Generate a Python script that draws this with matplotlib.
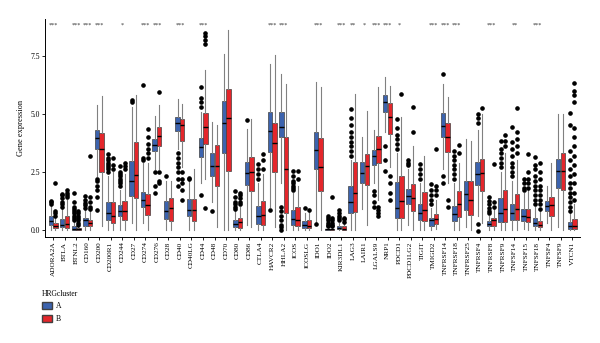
import matplotlib
matplotlib.use("Agg")
import matplotlib.pyplot as plt
from matplotlib.patches import Patch

plt.rcParams["font.family"] = ["Liberation Serif", "DejaVu Serif"]

genes = ["ADORA2A", "BTLA", "BTNL2", "CD160", "CD200", "CD200R1", "CD244", "CD27",
         "CD274", "CD276", "CD28", "CD40", "CD40LG", "CD44", "CD48", "CD70", "CD80",
         "CD86", "CTLA4", "HAVCR2", "HHLA2", "ICOS", "ICOSLG", "IDO1", "IDO2",
         "KIR3DL1", "LAG3", "LAIR1", "LGALS9", "NRP1", "PDCD1", "PDCD1LG2", "TIGIT",
         "TMIGD2", "TNFRSF14", "TNFRSF18", "TNFRSF25", "TNFRSF4", "TNFRSF8", "TNFRSF9",
         "TNFSF14", "TNFSF15", "TNFSF18", "TNFSF4", "TNFSF9", "VTCN1"]

stars = ["***", "", "***", "***", "***", "", "*", "", "***", "***", "", "***", "",
         "***", "", "", "", "", "", "***", "***", "", "", "***", "", "***", "**", "*",
         "***", "***", "*", "", "", "***", "***", "***", "", "", "***", "", "**", "",
         "***", "", "", ""]

# cluster A: q1, median, q3, lower whisker, upper whisker, outliers
a_q1 = [0.22, 0.10, 0.00, 0.17, 3.50, 0.41, 0.60, 1.45, 0.97, 3.40, 0.46, 4.28, 0.58, 3.12,
        2.32, 3.30, 0.12, 1.91, 0.26, 3.36, 3.99, 0.22, 0.07, 2.64, 0.00, 0.03, 0.70, 2.03,
        2.78, 5.07, 0.51, 1.12, 0.41, 0.17, 4.01, 0.39, 0.87, 1.91, 0.17, 0.32, 0.41, 0.39,
        0.14, 0.80, 1.81, 0.03]
a_med = [0.36, 0.22, 0.05, 0.40, 3.94, 0.72, 0.80, 2.10, 1.30, 3.67, 0.80, 4.60, 0.87, 3.58,
         2.75, 4.60, 0.25, 2.46, 0.58, 4.28, 4.42, 0.48, 0.19, 3.43, 0.02, 0.08, 1.19, 2.46,
         3.16, 5.51, 0.94, 1.45, 0.72, 0.41, 4.46, 0.68, 1.55, 2.39, 0.26, 0.72, 0.72, 0.61,
         0.29, 1.01, 2.54, 0.14]
a_q3 = [0.58, 0.46, 0.15, 0.50, 4.30, 1.19, 1.06, 2.97, 1.62, 3.91, 1.26, 4.86, 1.33, 3.94,
        3.33, 5.54, 0.40, 2.93, 1.01, 5.07, 5.10, 0.84, 0.36, 4.23, 0.05, 0.17, 1.88, 2.93,
        3.45, 5.83, 2.06, 1.77, 1.09, 0.50, 5.03, 1.01, 2.10, 2.94, 0.36, 1.35, 1.13, 0.90,
        0.51, 1.23, 3.07, 0.33]
a_lo = [0.00, 0.00, 0.00, 0.00, 2.30, 0.00, 0.00, 0.30, 0.30, 2.60, 0.00, 3.50, 0.00, 2.00,
        1.20, 0.00, 0.00, 0.20, 0.00, 1.00, 2.00, 0.00, 0.00, 0.30, 0.00, 0.00, 0.00, 0.90,
        2.00, 4.20, 0.00, 0.20, 0.00, 0.00, 2.60, 0.00, 0.10, 0.60, 0.00, 0.00, 0.00, 0.05,
        0.00, 0.30, 0.10, 0.00]
a_hi = [1.05, 0.90, 0.35, 0.90, 5.40, 2.30, 1.70, 5.30, 2.90, 4.90, 2.10, 5.65, 2.10, 5.10,
        4.64, 7.60, 0.80, 4.35, 2.00, 7.17, 6.70, 1.60, 0.70, 6.38, 0.10, 0.30, 3.00, 4.00,
        4.30, 6.60, 3.30, 2.60, 2.00, 0.95, 6.30, 2.00, 3.91, 4.30, 0.60, 2.50, 2.10, 1.60,
        1.00, 1.87, 5.00, 0.70]
a_out = [[1.1, 1.2, 1.25], [1.0, 1.1, 1.2, 1.35, 1.5, 1.55],
         [0.4, 0.5, 0.6, 0.7, 0.8, 0.9, 1.0, 1.2, 1.6], [0.95, 1.05, 1.15, 1.3, 1.45],
         [2.2, 2.1, 1.9, 1.7, 1.4, 0.85], [2.5, 2.6, 2.7, 2.8, 2.9, 3.0, 3.1, 3.26],
         [1.9, 2.0, 2.1, 2.2, 2.3, 2.4, 2.5, 2.75], [5.5, 5.6], [3.0, 3.1, 6.26],
         [2.5, 1.9, 1.6], [2.3], [3.3, 3.1, 2.9, 2.7, 2.5, 2.2, 1.9], [2.2, 2.25],
         [5.3, 5.5, 5.7, 6.16, 1.5], [0.8], [], [0.9, 1.0, 1.1, 1.2, 1.4, 1.67], [4.74],
         [2.2, 2.4, 2.6, 2.83], [0.87], [1.0, 0.8, 0.6, 0.4, 0.2, 0.1, 0.0],
         [1.7, 1.8, 1.9, 2.0, 2.1, 2.3, 2.54], [0.94], [0.25],
         [0.15, 0.2, 0.3, 0.4, 0.5, 0.58], [0.4, 0.5, 0.6, 0.7, 0.87],
         [3.2, 3.4, 3.6, 3.8, 4.0, 4.2, 4.5, 4.8, 5.2], [], [1.67, 1.5, 1.2, 1.0],
         [3.6, 3.0, 2.54], [3.5, 3.7, 3.9, 4.1, 4.4, 4.78], [2.8, 2.9, 3.0],
         [2.2, 2.4, 2.6, 2.83], [1.1, 1.3, 1.5, 1.7, 1.96], [6.71, 2.3, 2.0],
         [2.2, 2.4, 2.6, 2.8, 3.0, 3.2, 3.4], [], [4.6, 4.8, 5.0, 0.26, -0.05],
         [0.7, 0.8, 0.95, 1.1, 1.25, 1.42], [2.7, 2.9, 3.1, 3.3, 3.5, 3.84],
         [2.3, 2.5, 2.7, 2.9, 3.2, 3.5, 3.8, 4.42], [1.7, 1.8, 2.0, 2.17],
         [1.1, 1.3, 1.5, 1.7, 1.9, 2.1, 2.3, 2.6, 2.8, 3.12], [], [],
         [0.8, 1.0, 1.2, 1.4, 1.6, 1.8, 2.0, 2.3, 2.6, 3.0, 3.4, 4.5, 5.04]]

# cluster B
b_q1 = [0.08, 0.07, 0.00, 0.14, 2.50, 0.29, 0.43, 1.38, 0.65, 3.62, 0.36, 3.84, 0.36, 3.68,
        1.88, 2.54, 0.07, 1.65, 0.19, 2.50, 0.72, 0.14, 0.07, 1.67, 0.00, 0.00, 0.77, 1.91,
        2.86, 4.13, 0.51, 0.80, 0.36, 0.25, 3.36, 0.55, 0.65, 1.67, 0.17, 0.32, 0.43, 0.33,
        0.10, 0.58, 1.71, 0.03]
b_med = [0.17, 0.26, 0.03, 0.30, 3.48, 0.60, 0.80, 2.35, 1.06, 4.03, 0.94, 4.54, 0.84, 4.42,
         2.75, 4.81, 0.33, 2.49, 0.65, 3.74, 2.64, 0.43, 0.17, 2.71, 0.02, 0.03, 1.57, 2.75,
         3.48, 4.86, 1.23, 1.35, 0.84, 0.48, 4.01, 1.13, 1.30, 2.43, 0.41, 0.91, 0.90, 0.55,
         0.22, 1.06, 2.54, 0.14]
b_q3 = [0.28, 0.60, 0.07, 0.43, 4.16, 1.20, 1.26, 3.77, 1.55, 4.42, 1.38, 4.78, 1.33, 5.04,
        3.65, 6.09, 0.50, 3.14, 1.22, 4.60, 3.99, 0.99, 0.40, 3.94, 0.05, 0.14, 2.94, 3.26,
        4.06, 5.48, 2.32, 1.96, 1.64, 0.68, 4.59, 1.67, 2.10, 3.04, 0.50, 1.70, 1.52, 0.90,
        0.39, 1.42, 3.33, 0.48]
b_lo = [0.00, 0.00, 0.00, 0.00, 0.15, 0.00, 0.00, 0.00, 0.00, 2.60, 0.00, 2.70, 0.00, 2.20,
        0.10, 0.00, 0.00, 0.10, 0.00, 0.10, 0.00, 0.00, 0.00, 0.00, 0.00, 0.00, 0.00, 0.20,
        1.30, 2.70, 0.00, 0.00, 0.00, 0.05, 2.00, 0.00, 0.00, 0.30, 0.00, 0.00, 0.00, 0.00,
        0.00, 0.00, 0.00, 0.00]
b_hi = [0.55, 1.30, 0.15, 0.85, 5.75, 2.50, 2.40, 5.80, 2.90, 5.40, 2.10, 5.43, 2.60, 6.88,
        4.50, 8.62, 1.00, 4.78, 2.40, 7.54, 6.30, 1.90, 0.75, 6.16, 0.10, 0.25, 5.87, 5.14,
        6.16, 6.20, 4.86, 3.60, 3.20, 1.30, 5.72, 2.90, 3.84, 5.00, 0.90, 3.30, 3.00, 1.70,
        0.80, 2.90, 5.00, 1.10]
b_out = [[0.6, 0.7, 0.8, 2.03], [1.4, 1.5, 1.6, 1.7], [0.2, 0.3, 0.4, 0.5, 0.6, 0.7, 0.8],
         [0.9, 1.0, 1.2, 1.4, 3.2], [], [2.6, 2.8, 3.1], [2.6, 2.75, 2.9], [],
         [3.1, 3.3, 3.5, 3.7, 4.0, 4.35], [5.95, 2.5, 2.1, 2.0], [],
         [2.5, 2.2, 2.0, 1.7, 1.3], [], [8.0, 8.2, 8.35, 8.5, 0.94], [], [],
         [1.1, 1.2, 1.35, 1.5, 1.6], [], [2.6, 3.0, 3.26], [], [], [2.2, 2.54], [0.87], [],
         [0.15, 0.2, 0.3, 0.4, 0.5, 1.4], [0.35, 0.45, 0.5], [], [],
         [1.0, 0.85, 0.7, 0.58], [2.3, 2.0, 1.6, 1.3], [5.84], [4.2, 5.3], [],
         [1.5, 1.7, 1.9, 3.5], [1.3, 1.0], [3.3, 3.67], [], [5.25], [1.0, 1.2, 2.83],
         [3.6, 3.84, 4.09], [3.3, 3.6, 3.9, 4.2, 5.26], [1.8, 2.0, 2.2, 2.5, 3.26],
         [0.9, 1.1, 1.3, 1.5, 1.7, 1.9, 2.2, 2.5, 2.9], [], [],
         [1.3, 1.6, 2.0, 2.4, 2.8, 3.2, 3.6, 4.0, 4.4, 5.5, 5.8, 6.0, 6.33]]

COL_A = "#3c63ae"
COL_B = "#e4262b"


def stats(q1, med, q3, lo, hi, out):
    return [{"q1": q1[i], "med": med[i], "q3": q3[i], "whislo": lo[i], "whishi": hi[i],
             "fliers": out[i]} for i in range(len(q1))]


fig = plt.figure(figsize=(6, 3.43), dpi=100)
ax = fig.add_axes([0.075, 0.31, 0.892, 0.635])

pos = list(range(len(genes)))
for st, off, col in [(stats(a_q1, a_med, a_q3, a_lo, a_hi, a_out), -0.2, COL_A),
                     (stats(b_q1, b_med, b_q3, b_lo, b_hi, b_out), 0.2, COL_B)]:
    ax.bxp(st, positions=[p + off for p in pos], widths=0.38, patch_artist=True,
           showcaps=False, manage_ticks=False,
           boxprops=dict(facecolor=col, edgecolor="#404040", linewidth=0.5),
           medianprops=dict(color="black", linewidth=1.0),
           whiskerprops=dict(color="#808080", linewidth=0.8),
           flierprops=dict(marker="o", markerfacecolor="black", markeredgecolor="black",
                           markersize=2.3))

for p, s in zip(pos, stars):
    if s:
        ax.text(p, 8.82, s, ha="center", va="center", fontsize=4.5, color="#333333")

ax.set_xlim(-0.7, 45.7)
ax.set_ylim(-0.3, 9.1)
ax.set_xticks(pos)
ax.set_xticklabels(genes, rotation=90, fontsize=5.2)
ax.set_yticks([0, 2.5, 5.0, 7.5])
ax.set_yticklabels(["0.0", "2.5", "5.0", "7.5"], fontsize=5.5)
ax.set_ylabel("Gene expression", fontsize=6)
ax.tick_params(length=2, width=0.6, pad=1.5)
for sp in ["top", "right"]:
    ax.spines[sp].set_visible(False)
for sp in ["left", "bottom"]:
    ax.spines[sp].set_linewidth(0.7)

handles = [Patch(facecolor=COL_A, edgecolor="#404040", label="A"),
           Patch(facecolor=COL_B, edgecolor="#404040", label="B")]
leg = fig.legend(handles=handles, title="HRGcluster", loc="upper left",
                 bbox_to_anchor=(0.058, 0.175), frameon=False, fontsize=5.5,
                 title_fontsize=5.5, handlelength=1.3, handleheight=1.0,
                 labelspacing=0.6, handletextpad=0.6)
leg._legend_box.align = "left"

fig.savefig("out.png", dpi=100)
